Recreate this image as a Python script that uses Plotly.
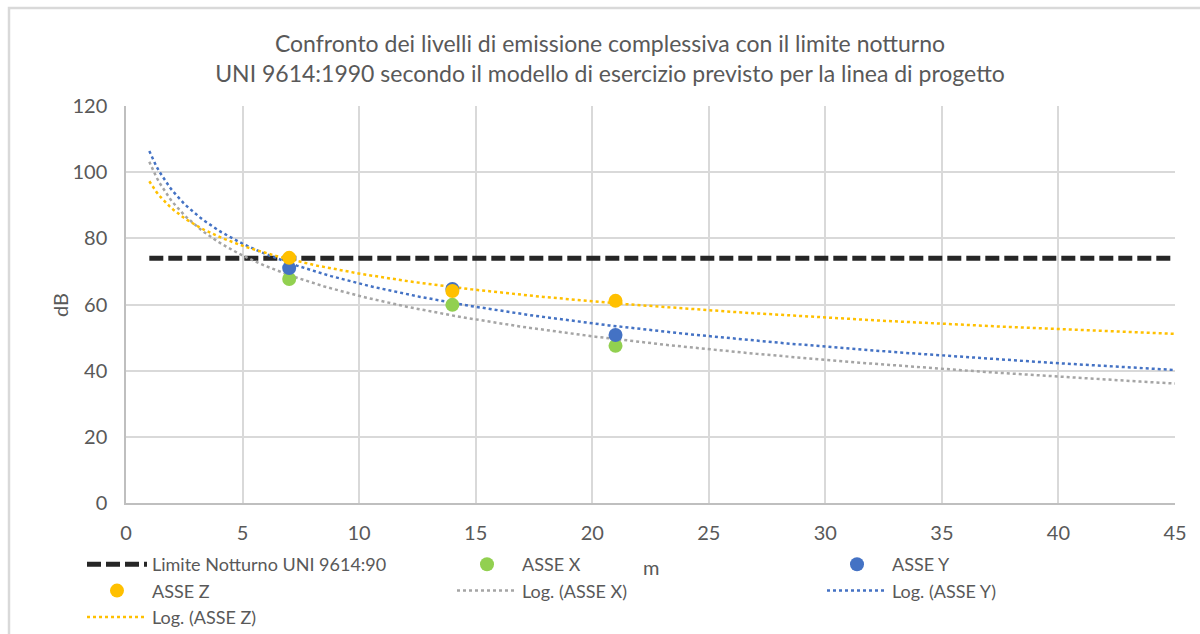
import numpy as np
import plotly.graph_objects as go

# ---- data ----
distances = [7, 14, 21]
asse_x = [67.7, 59.9, 47.5]
asse_y = [71.0, 64.7, 50.8]
asse_z = [74.1, 64.1, 61.1]
limit_x = [1, 45]
limit_y = [74, 74]
trend_range = [1, 45]

x_ticks = [0, 5, 10, 15, 20, 25, 30, 35, 40, 45]
y_ticks = [0, 20, 40, 60, 80, 100, 120]

FONT = "Lato"
TXT = "#595959"

def log_fit(xs, ys):
    a, b = np.polyfit(np.log(xs), ys, 1)
    xx = np.linspace(trend_range[0], trend_range[1], 300)
    return xx, a * np.log(xx) + b

fig = go.Figure()

fig.add_trace(go.Scatter(x=limit_x, y=limit_y, mode="lines", name="Limite Notturno UNI 9614:90",
                         line=dict(color="#262626", width=5, dash="14px,5px"), legendrank=1))

for ys, col, nm, rk in [(asse_x, "#A5A5A5", "Log. (ASSE X)", 5),
                        (asse_y, "#4472C4", "Log. (ASSE Y)", 6),
                        (asse_z, "#FFC000", "Log. (ASSE Z)", 7)]:
    xx, yy = log_fit(distances, ys)
    fig.add_trace(go.Scatter(x=xx, y=yy, mode="lines", name=nm,
                             line=dict(color=col, width=2.5, dash="dot"), legendrank=rk))

for ys, col, nm, rk in [(asse_x, "#92D050", "ASSE X", 2),
                        (asse_y, "#4472C4", "ASSE Y", 3),
                        (asse_z, "#FFC000", "ASSE Z", 4)]:
    fig.add_trace(go.Scatter(x=distances, y=ys, mode="markers", name=nm,
                             marker=dict(color=col, size=14), legendrank=rk))

L, R, T, B = 126, 25, 106, 131
W, H = 1200, 634
pw, ph = W - L - R, H - T - B

def px(x):
    return (x - L) / pw

def py(y):
    return (H - B - y) / ph

fig.update_layout(
    width=W, height=H,
    margin=dict(l=L, r=R, t=T, b=B, autoexpand=False),
    paper_bgcolor="white", plot_bgcolor="white",
    font=dict(family=FONT, color=TXT, size=18),
    title=dict(text="Confronto dei livelli di emissione complessiva con il limite notturno<br>"
                    "UNI 9614:1990 secondo il modello di esercizio previsto per la linea di progetto",
               x=610 / W, xanchor="center", y=1 - 52 / H, yanchor="middle",
               font=dict(family=FONT, size=23, color=TXT)),
    xaxis=dict(range=[0, 45], tickvals=x_ticks, showgrid=True, gridcolor="#D9D9D9", gridwidth=1.5,
               zeroline=False, showline=True, linecolor="#BFBFBF", linewidth=1.5,
               ticks="outside", ticklen=11, tickcolor="rgba(0,0,0,0)",
               tickfont=dict(size=20, color=TXT), fixedrange=True),
    yaxis=dict(range=[0, 120], tickvals=y_ticks, showgrid=True, gridcolor="#D9D9D9", gridwidth=1.5,
               zeroline=False, showline=True, linecolor="#BFBFBF", linewidth=1.5,
               ticks="outside", ticklen=13, tickcolor="rgba(0,0,0,0)",
               tickfont=dict(size=20, color=TXT), fixedrange=True),
    legend=dict(orientation="h", x=px(82), xanchor="left", y=py(546), yanchor="top",
                entrywidth=295, entrywidthmode="pixels", itemwidth=60,
                font=dict(size=18, color=TXT), bgcolor="rgba(0,0,0,0)", tracegroupgap=0),
    showlegend=True,
)

fig.add_annotation(text="m", x=px(651), y=py(567), xref="paper", yref="paper",
                   xanchor="center", yanchor="middle",
                   showarrow=False, font=dict(size=20, color=TXT))
fig.add_annotation(text="dB", x=px(60), y=py(305), xref="paper", yref="paper",
                   xanchor="center", yanchor="middle",
                   showarrow=False, textangle=-90, font=dict(size=20, color=TXT))

fig.add_shape(type="rect", xref="paper", yref="paper",
              x0=px(9), x1=px(1215), y0=py(650), y1=py(8),
              line=dict(color="#D9D9D9", width=2.5), layer="below")

fig.write_html("out.html", config={"displayModeBar": False},
               post_script="document.body.style.margin='0';")
